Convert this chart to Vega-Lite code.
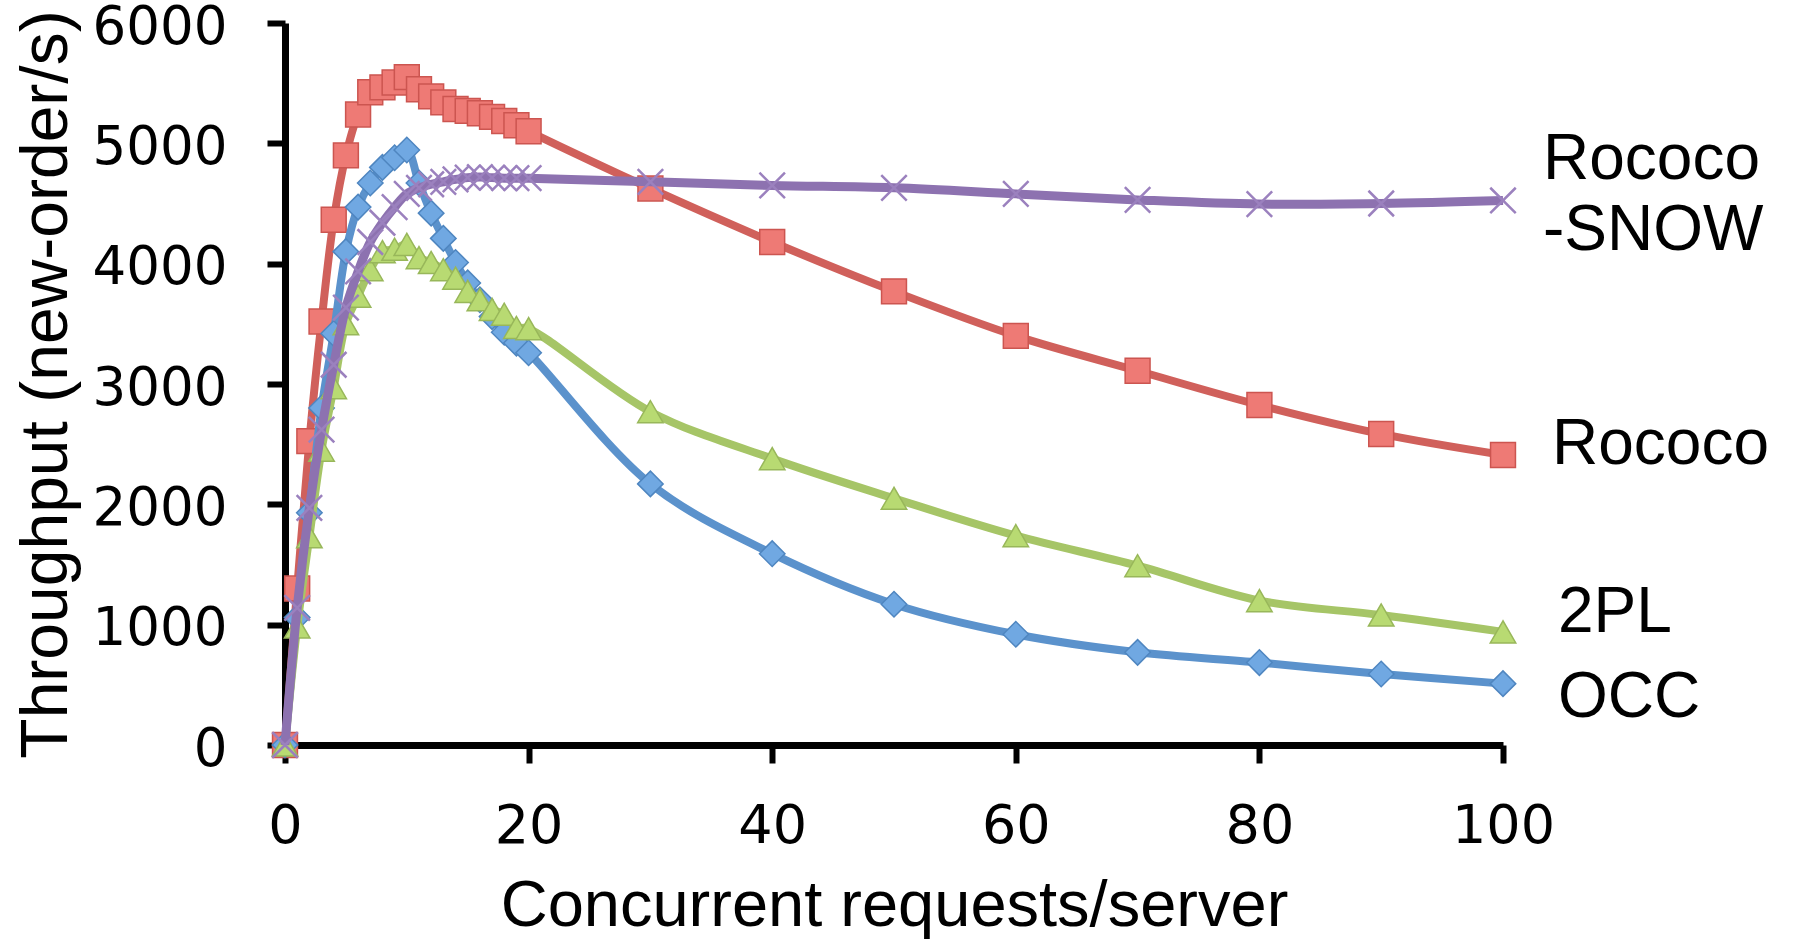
{
  "$schema": "https://vega.github.io/schema/vega-lite/v6.json",
  "width": 1218,
  "height": 722,
  "autosize": "none",
  "padding": {"left": 285, "top": 23, "right": 293, "bottom": 198},
  "background": "white",
  "config": {"view": {"stroke": null}},
  "datasets": {
    "main": [
      {"s": "Rococo", "x": 0, "y": 0}, {"s": "Rococo", "x": 1, "y": 1300}, {"s": "Rococo", "x": 2, "y": 2525}, {"s": "Rococo", "x": 3, "y": 3520}, {"s": "Rococo", "x": 4, "y": 4365}, {"s": "Rococo", "x": 5, "y": 4900}, {"s": "Rococo", "x": 6, "y": 5240}, {"s": "Rococo", "x": 7, "y": 5425}, {"s": "Rococo", "x": 8, "y": 5465}, {"s": "Rococo", "x": 9, "y": 5505}, {"s": "Rococo", "x": 10, "y": 5550}, {"s": "Rococo", "x": 11, "y": 5450}, {"s": "Rococo", "x": 12, "y": 5390}, {"s": "Rococo", "x": 13, "y": 5340}, {"s": "Rococo", "x": 14, "y": 5285}, {"s": "Rococo", "x": 15, "y": 5270}, {"s": "Rococo", "x": 16, "y": 5250}, {"s": "Rococo", "x": 17, "y": 5220}, {"s": "Rococo", "x": 18, "y": 5185}, {"s": "Rococo", "x": 19, "y": 5150}, {"s": "Rococo", "x": 20, "y": 5100}, {"s": "Rococo", "x": 30, "y": 4625}, {"s": "Rococo", "x": 40, "y": 4180}, {"s": "Rococo", "x": 50, "y": 3770}, {"s": "Rococo", "x": 60, "y": 3400}, {"s": "Rococo", "x": 70, "y": 3110}, {"s": "Rococo", "x": 80, "y": 2825}, {"s": "Rococo", "x": 90, "y": 2585}, {"s": "Rococo", "x": 100, "y": 2410},
      {"s": "OCC", "x": 0, "y": 0}, {"s": "OCC", "x": 1, "y": 1060}, {"s": "OCC", "x": 2, "y": 1930}, {"s": "OCC", "x": 3, "y": 2800}, {"s": "OCC", "x": 4, "y": 3420}, {"s": "OCC", "x": 5, "y": 4100}, {"s": "OCC", "x": 6, "y": 4470}, {"s": "OCC", "x": 7, "y": 4670}, {"s": "OCC", "x": 8, "y": 4800}, {"s": "OCC", "x": 9, "y": 4880}, {"s": "OCC", "x": 10, "y": 4945}, {"s": "OCC", "x": 11, "y": 4670}, {"s": "OCC", "x": 12, "y": 4420}, {"s": "OCC", "x": 13, "y": 4210}, {"s": "OCC", "x": 14, "y": 4010}, {"s": "OCC", "x": 15, "y": 3840}, {"s": "OCC", "x": 16, "y": 3700}, {"s": "OCC", "x": 17, "y": 3560}, {"s": "OCC", "x": 18, "y": 3430}, {"s": "OCC", "x": 19, "y": 3340}, {"s": "OCC", "x": 20, "y": 3260}, {"s": "OCC", "x": 30, "y": 2170}, {"s": "OCC", "x": 40, "y": 1590}, {"s": "OCC", "x": 50, "y": 1170}, {"s": "OCC", "x": 60, "y": 920}, {"s": "OCC", "x": 70, "y": 770}, {"s": "OCC", "x": 80, "y": 685}, {"s": "OCC", "x": 90, "y": 590}, {"s": "OCC", "x": 100, "y": 510},
      {"s": "2PL", "x": 0, "y": 0}, {"s": "2PL", "x": 1, "y": 980}, {"s": "2PL", "x": 2, "y": 1730}, {"s": "2PL", "x": 3, "y": 2450}, {"s": "2PL", "x": 4, "y": 2970}, {"s": "2PL", "x": 5, "y": 3500}, {"s": "2PL", "x": 6, "y": 3730}, {"s": "2PL", "x": 7, "y": 3950}, {"s": "2PL", "x": 8, "y": 4100}, {"s": "2PL", "x": 9, "y": 4120}, {"s": "2PL", "x": 10, "y": 4160}, {"s": "2PL", "x": 11, "y": 4050}, {"s": "2PL", "x": 12, "y": 4010}, {"s": "2PL", "x": 13, "y": 3950}, {"s": "2PL", "x": 14, "y": 3880}, {"s": "2PL", "x": 15, "y": 3770}, {"s": "2PL", "x": 16, "y": 3700}, {"s": "2PL", "x": 17, "y": 3620}, {"s": "2PL", "x": 18, "y": 3580}, {"s": "2PL", "x": 19, "y": 3470}, {"s": "2PL", "x": 20, "y": 3460}, {"s": "2PL", "x": 30, "y": 2770}, {"s": "2PL", "x": 40, "y": 2380}, {"s": "2PL", "x": 50, "y": 2050}, {"s": "2PL", "x": 60, "y": 1740}, {"s": "2PL", "x": 70, "y": 1490}, {"s": "2PL", "x": 80, "y": 1200}, {"s": "2PL", "x": 90, "y": 1080}, {"s": "2PL", "x": 100, "y": 940},
      {"s": "Rococo-SNOW", "x": 0, "y": 0}, {"s": "Rococo-SNOW", "x": 1, "y": 1140}, {"s": "Rococo-SNOW", "x": 2, "y": 1970}, {"s": "Rococo-SNOW", "x": 3, "y": 2620}, {"s": "Rococo-SNOW", "x": 4, "y": 3160}, {"s": "Rococo-SNOW", "x": 5, "y": 3635}, {"s": "Rococo-SNOW", "x": 6, "y": 3935}, {"s": "Rococo-SNOW", "x": 7, "y": 4180}, {"s": "Rococo-SNOW", "x": 8, "y": 4340}, {"s": "Rococo-SNOW", "x": 9, "y": 4470}, {"s": "Rococo-SNOW", "x": 10, "y": 4580}, {"s": "Rococo-SNOW", "x": 11, "y": 4630}, {"s": "Rococo-SNOW", "x": 12, "y": 4660}, {"s": "Rococo-SNOW", "x": 13, "y": 4680}, {"s": "Rococo-SNOW", "x": 14, "y": 4700}, {"s": "Rococo-SNOW", "x": 15, "y": 4715}, {"s": "Rococo-SNOW", "x": 16, "y": 4720}, {"s": "Rococo-SNOW", "x": 17, "y": 4715}, {"s": "Rococo-SNOW", "x": 18, "y": 4710}, {"s": "Rococo-SNOW", "x": 19, "y": 4710}, {"s": "Rococo-SNOW", "x": 20, "y": 4710}, {"s": "Rococo-SNOW", "x": 30, "y": 4680}, {"s": "Rococo-SNOW", "x": 40, "y": 4650}, {"s": "Rococo-SNOW", "x": 50, "y": 4630}, {"s": "Rococo-SNOW", "x": 60, "y": 4580}, {"s": "Rococo-SNOW", "x": 70, "y": 4530}, {"s": "Rococo-SNOW", "x": 80, "y": 4495}, {"s": "Rococo-SNOW", "x": 90, "y": 4500}, {"s": "Rococo-SNOW", "x": 100, "y": 4525}
    ],
    "labels": [
      {"s": "Rococo-SNOW", "x": 100, "y": 4525, "label": "Rococo\n-SNOW"},
      {"s": "Rococo", "x": 100, "y": 2410, "label": "Rococo"},
      {"s": "2PL", "x": 100, "y": 940, "label": "2PL"},
      {"s": "OCC", "x": 100, "y": 510, "label": "OCC"}
    ]
  },
  "data": {"name": "main"},
  "encoding": {
    "x": {
      "field": "x", "type": "quantitative",
      "scale": {"domain": [0, 100], "nice": false, "zero": true},
      "axis": {
        "values": [0, 20, 40, 60, 80, 100],
        "grid": false,
        "domainColor": "black", "domainWidth": 7,
        "tickColor": "black", "tickWidth": 6, "tickSize": 18,
        "labelFont": "DejaVu Sans", "labelFontSize": 54, "labelColor": "black", "labelPadding": 36,
        "labelFlush": false,
        "title": "Concurrent requests/server",
        "titleFont": "Liberation Sans", "titleFontSize": 65, "titleFontWeight": "normal", "titleColor": "black", "titlePadding": 21
      }
    },
    "y": {
      "field": "y", "type": "quantitative",
      "scale": {"domain": [0, 6000], "nice": false},
      "axis": {
        "values": [0, 1000, 2000, 3000, 4000, 5000, 6000],
        "grid": false,
        "domainColor": "black", "domainWidth": 7,
        "tickColor": "black", "tickWidth": 6, "tickSize": 18,
        "labelFont": "DejaVu Sans", "labelFontSize": 53, "labelColor": "black", "labelPadding": 40,
        "labelOffset": 4,
        "labelFlush": false,
        "format": "d",
        "title": "Throughput (new-order/s)",
        "titleFont": "Liberation Sans", "titleFontSize": 66, "titleFontWeight": "normal", "titleColor": "black", "titlePadding": 12
      }
    }
  },
  "layer": [
    {"transform": [{"filter": "datum.s === 'Rococo'"}], "mark": {"type": "line", "interpolate": "catmull-rom", "color": "#D0605B", "strokeWidth": 8}},
    {"transform": [{"filter": "datum.s === 'Rococo'"}], "mark": {"type": "point", "shape": "square", "filled": true, "size": 620, "fill": "#EE7A75", "stroke": "#CC5550", "strokeWidth": 1.5, "opacity": 1}},
    {"transform": [{"filter": "datum.s === 'OCC'"}], "mark": {"type": "line", "interpolate": "catmull-rom", "color": "#5B92CC", "strokeWidth": 8}},
    {"transform": [{"filter": "datum.s === 'OCC'"}], "mark": {"type": "point", "shape": "diamond", "filled": true, "size": 650, "fill": "#70A8E2", "stroke": "#4F86C0", "strokeWidth": 1.5, "opacity": 1}},
    {"transform": [{"filter": "datum.s === '2PL'"}], "mark": {"type": "line", "interpolate": "catmull-rom", "color": "#A6C567", "strokeWidth": 8}},
    {"transform": [{"filter": "datum.s === '2PL'"}], "mark": {"type": "point", "shape": "triangle-up", "filled": true, "size": 650, "fill": "#B8DA72", "stroke": "#98B75A", "strokeWidth": 1.5, "opacity": 1}},
    {"transform": [{"filter": "datum.s === 'Rococo-SNOW'"}], "mark": {"type": "line", "interpolate": "catmull-rom", "color": "#8D72B0", "strokeWidth": 9}},
    {"transform": [{"filter": "datum.s === 'Rococo-SNOW'"}], "mark": {"type": "point", "shape": "M-1,-1L1,1M-1,1L1,-1", "filled": false, "size": 650, "stroke": "#9B81BE", "strokeWidth": 2.5, "opacity": 1}},
    {"data": {"name": "labels"}, "transform": [{"filter": "datum.s === 'Rococo-SNOW'"}], "mark": {"type": "text", "align": "left", "baseline": "middle", "dx": 40, "dy": -40, "font": "Liberation Sans", "fontSize": 64, "color": "black", "lineBreak": "\n", "lineHeight": 71}, "encoding": {"text": {"field": "label"}}},
    {"data": {"name": "labels"}, "transform": [{"filter": "datum.s === 'Rococo'"}], "mark": {"type": "text", "align": "left", "baseline": "middle", "dx": 49, "dy": -10, "font": "Liberation Sans", "fontSize": 64, "color": "black"}, "encoding": {"text": {"field": "label"}}},
    {"data": {"name": "labels"}, "transform": [{"filter": "datum.s === '2PL'"}], "mark": {"type": "text", "align": "left", "baseline": "middle", "dx": 55, "dy": -19, "font": "Liberation Sans", "fontSize": 64, "color": "black"}, "encoding": {"text": {"field": "label"}}},
    {"data": {"name": "labels"}, "transform": [{"filter": "datum.s === 'OCC'"}], "mark": {"type": "text", "align": "left", "baseline": "middle", "dx": 55, "dy": 14, "font": "Liberation Sans", "fontSize": 64, "color": "black"}, "encoding": {"text": {"field": "label"}}}
  ]
}
